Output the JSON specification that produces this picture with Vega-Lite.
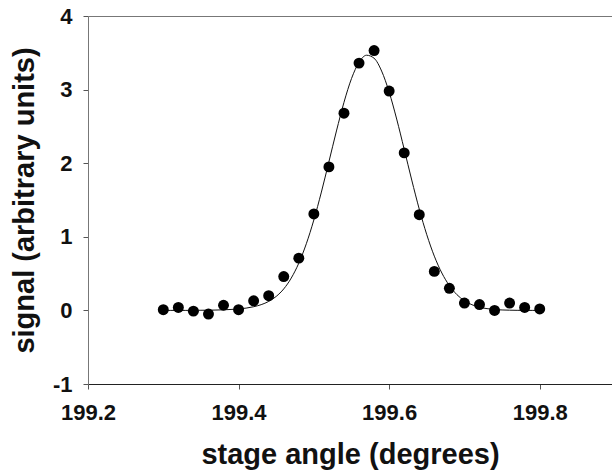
{
  "$schema": "https://vega.github.io/schema/vega-lite/v6.json",
  "autosize": {"type": "none"},
  "padding": {"left": 88, "top": 16, "right": 0, "bottom": 92},
  "width": 524,
  "height": 368,
  "background": "white",
  "view": {"stroke": null},
  "config": {
    "font": "Liberation Sans",
    "axis": {
      "labelFont": "Liberation Sans",
      "labelFontWeight": "bold",
      "labelFontSize": 22,
      "labelColor": "#111111",
      "labelFlush": false,
      "labelOverlap": false,
      "titleFont": "Liberation Sans",
      "titleFontWeight": "bold",
      "titleFontSize": 29,
      "titleColor": "#111111",
      "grid": false,
      "tickColor": "#555555",
      "tickSize": 5,
      "tickWidth": 1
    }
  },
  "datasets": {
    "points": [
      {"angle": 199.30, "signal": 0.01},
      {"angle": 199.32, "signal": 0.04},
      {"angle": 199.34, "signal": -0.01},
      {"angle": 199.36, "signal": -0.05},
      {"angle": 199.38, "signal": 0.07},
      {"angle": 199.40, "signal": 0.01},
      {"angle": 199.42, "signal": 0.13},
      {"angle": 199.44, "signal": 0.20},
      {"angle": 199.46, "signal": 0.46},
      {"angle": 199.48, "signal": 0.71},
      {"angle": 199.50, "signal": 1.31},
      {"angle": 199.52, "signal": 1.95},
      {"angle": 199.54, "signal": 2.68},
      {"angle": 199.56, "signal": 3.36},
      {"angle": 199.58, "signal": 3.53},
      {"angle": 199.60, "signal": 2.98},
      {"angle": 199.62, "signal": 2.14},
      {"angle": 199.64, "signal": 1.30},
      {"angle": 199.66, "signal": 0.53},
      {"angle": 199.68, "signal": 0.30},
      {"angle": 199.70, "signal": 0.10},
      {"angle": 199.72, "signal": 0.08},
      {"angle": 199.74, "signal": 0.00},
      {"angle": 199.76, "signal": 0.10},
      {"angle": 199.78, "signal": 0.04},
      {"angle": 199.80, "signal": 0.02}
    ],
    "fit": [
      {"angle": 199.30, "signal": 0.000},
      {"angle": 199.31, "signal": 0.000},
      {"angle": 199.32, "signal": 0.000},
      {"angle": 199.33, "signal": 0.000},
      {"angle": 199.34, "signal": 0.001},
      {"angle": 199.35, "signal": 0.002},
      {"angle": 199.36, "signal": 0.003},
      {"angle": 199.37, "signal": 0.005},
      {"angle": 199.38, "signal": 0.008},
      {"angle": 199.39, "signal": 0.013},
      {"angle": 199.40, "signal": 0.020},
      {"angle": 199.41, "signal": 0.031},
      {"angle": 199.42, "signal": 0.050},
      {"angle": 199.43, "signal": 0.078},
      {"angle": 199.44, "signal": 0.122},
      {"angle": 199.45, "signal": 0.190},
      {"angle": 199.46, "signal": 0.292},
      {"angle": 199.47, "signal": 0.440},
      {"angle": 199.48, "signal": 0.642},
      {"angle": 199.49, "signal": 0.906},
      {"angle": 199.50, "signal": 1.230},
      {"angle": 199.51, "signal": 1.608},
      {"angle": 199.52, "signal": 2.020},
      {"angle": 199.53, "signal": 2.438},
      {"angle": 199.54, "signal": 2.827},
      {"angle": 199.55, "signal": 3.150},
      {"angle": 199.56, "signal": 3.371},
      {"angle": 199.57, "signal": 3.467},
      {"angle": 199.58, "signal": 3.426},
      {"angle": 199.59, "signal": 3.252},
      {"angle": 199.60, "signal": 2.966},
      {"angle": 199.61, "signal": 2.600},
      {"angle": 199.62, "signal": 2.189},
      {"angle": 199.63, "signal": 1.771},
      {"angle": 199.64, "signal": 1.376},
      {"angle": 199.65, "signal": 1.028},
      {"angle": 199.66, "signal": 0.737},
      {"angle": 199.67, "signal": 0.508},
      {"angle": 199.68, "signal": 0.337},
      {"angle": 199.69, "signal": 0.214},
      {"angle": 199.70, "signal": 0.131},
      {"angle": 199.71, "signal": 0.077},
      {"angle": 199.72, "signal": 0.043},
      {"angle": 199.73, "signal": 0.024},
      {"angle": 199.74, "signal": 0.012},
      {"angle": 199.75, "signal": 0.006},
      {"angle": 199.76, "signal": 0.003},
      {"angle": 199.77, "signal": 0.001},
      {"angle": 199.78, "signal": 0.000},
      {"angle": 199.79, "signal": 0.000},
      {"angle": 199.80, "signal": 0.000}
    ]
  },
  "encoding": {
    "y": {
      "field": "signal",
      "type": "quantitative",
      "scale": {"domain": [-1, 4], "nice": false, "zero": false},
      "axis": {
        "title": "signal (arbitrary units)",
        "values": [-1, 0, 1, 2, 3, 4],
        "labelExpr": "'' + datum.value",
        "domainColor": "#777777",
        "labelPadding": 11,
        "titlePadding": 13
      }
    }
  },
  "layer": [
    {
      "data": {"name": "fit"},
      "mark": {"type": "line", "color": "#111111", "strokeWidth": 1, "interpolate": "monotone"},
      "encoding": {
        "x": {
          "field": "angle",
          "type": "quantitative",
          "scale": {"domain": [199.2, 199.896], "nice": false, "zero": false},
          "axis": {
            "orient": "bottom",
            "title": "stage angle (degrees)",
            "values": [199.2, 199.4, 199.6, 199.8],
            "format": ".1f",
            "domainColor": "#222222",
            "labelPadding": 13,
            "titlePadding": 17
          }
        }
      }
    },
    {
      "data": {"name": "points"},
      "mark": {"type": "point", "filled": true, "color": "#000000", "opacity": 1, "size": 120},
      "encoding": {
        "x": {
          "field": "angle",
          "type": "quantitative",
          "axis": {
            "orient": "top",
            "title": null,
            "labels": false,
            "ticks": false,
            "domainColor": "#777777"
          }
        }
      }
    }
  ],
  "resolve": {"axis": {"x": "independent"}}
}
